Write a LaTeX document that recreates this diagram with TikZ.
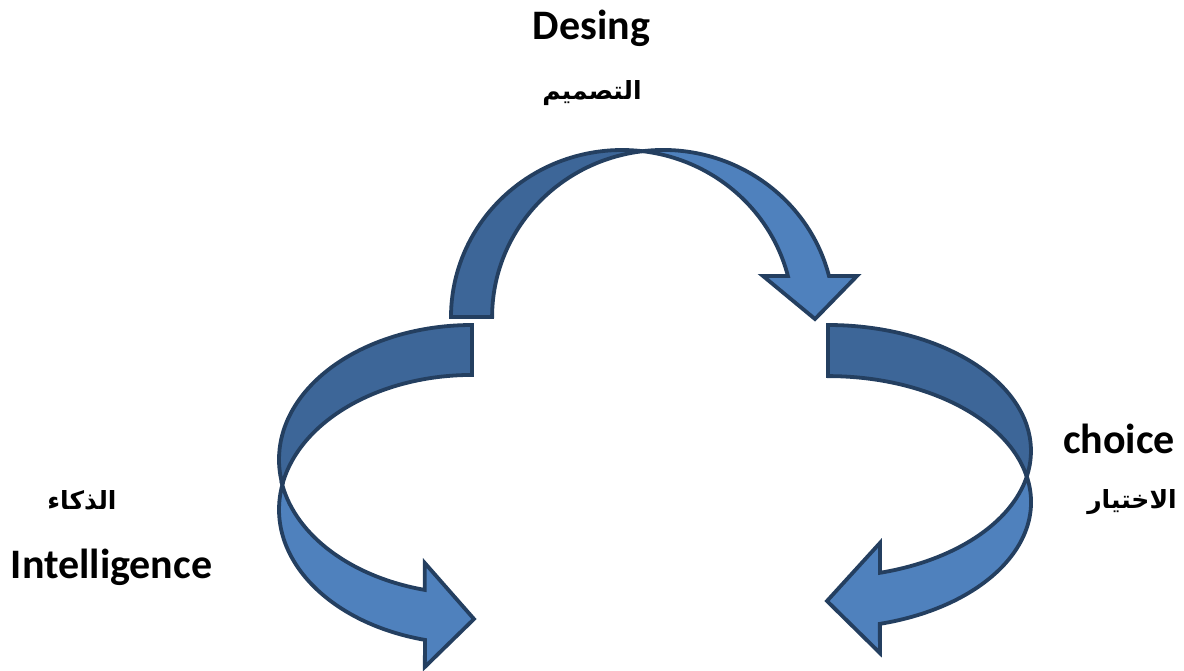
\documentclass[tikz,border=0pt]{standalone}
\usepackage{fontspec}
\setmainfont{Carlito}
\newfontfamily\arabicfont[Script=Arabic]{DejaVu Sans}
\TeXXeTstate=1
\definecolor{bandlight}{HTML}{4F81BD}
\definecolor{banddark}{HTML}{3D6698}
\definecolor{bandline}{HTML}{243F60}

\begin{document}
\begin{tikzpicture}[x=0.5pt,y=-0.5pt,
  back/.style={fill=banddark,draw=bandline,line width=1.9pt,line join=miter},
  front/.style={fill=bandlight,draw=bandline,line width=1.9pt,line join=miter},
  latin/.style={font=\fontsize{21}{25}\selectfont\bfseries,inner sep=0pt},
  arab/.style={font=\fontsize{12.5}{15}\selectfont\arabicfont\bfseries,inner sep=0pt}]
\useasboundingbox (0,0) rectangle (1184,670);

% design arrow
\coordinate (dtail) at (451,317);
\coordinate (dmeet) at (642.6,151.2);
\draw[back] (dtail) arc[start angle=180,end angle=276.9,x radius=171.1,y radius=167]
  arc[start angle=263.1,end angle=180,x radius=171.1,y radius=167] -- cycle;
\draw[front] (dmeet) arc[start angle=276.9,end angle=345.8,x radius=171.1,y radius=167]
  -- (763,276) -- (815,319) -- (857,276) -- (829,276)
  arc[start angle=345.8,end angle=263.1,x radius=171.1,y radius=167] -- cycle;

% intelligence arrow
\coordinate (itail) at (472,325);
\coordinate (imeet) at (282.4,484.5);
\draw[back] (itail) arc[start angle=270,end angle=169.3,x radius=193,y radius=134.5]
  arc[start angle=190.7,end angle=270,x radius=193,y radius=134.5] -- cycle;
\draw[front] (imeet) arc[start angle=190.7,end angle=104.1,x radius=193,y radius=134.5]
  -- (424.8,667) -- (474,619) -- (424.8,563) -- (424.8,589.9)
  arc[start angle=104.1,end angle=169.3,x radius=193,y radius=134.5] -- cycle;

% choice arrow
\coordinate (ctail) at (828,325);
\coordinate (cmeet) at (1026.8,476.5);
\draw[back] (ctail) arc[start angle=270,end angle=371.7,x radius=203,y radius=126]
  arc[start angle=348.3,end angle=270,x radius=203,y radius=126] -- cycle;
\draw[front] (cmeet) arc[start angle=348.3,end angle=435.2,x radius=203,y radius=126]
  -- (879.9,653) -- (827,601) -- (879.9,543) -- (879.9,572.8)
  arc[start angle=435.2,end angle=371.7,x radius=203,y radius=126] -- cycle;

\node[latin,anchor=base] (design) at (591.5,39) {Desing};
\node[arab] (tasmim) at (592,93) {\beginR التصميم\endR};
\node[arab] (thaka) at (82,500) {\beginR الذكاء\endR};
\node[latin,anchor=base] (intel) at (111.5,578) {Intelligence};
\node[latin,anchor=base] (choice) at (1119,453) {choice};
\node[arab] (ikhtiyar) at (1132,502) {\beginR الاختيار\endR};
\end{tikzpicture}
\end{document}
